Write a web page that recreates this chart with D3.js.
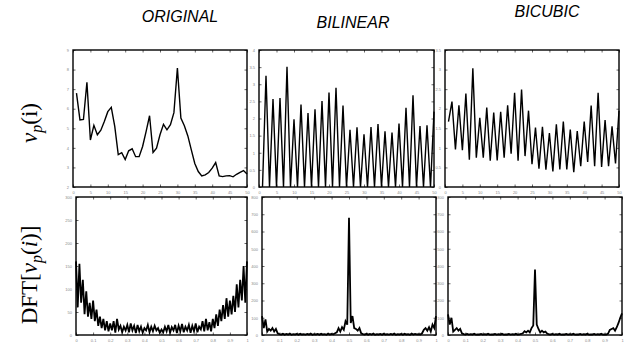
<!DOCTYPE html>
<html lang="en">
<head>
<meta charset="utf-8">
<script src="https://d3js.org/d3.v7.min.js"></script>
<style>
    body { margin: 0; background: #fff; }
    .title { font-family: 'Liberation Sans', Arial, sans-serif; font-style: italic; font-size: 16px; text-anchor: middle; }
    .ylab { font-family: 'Liberation Serif', 'Times New Roman', serif; font-size: 23px; }
    .axis text { font-family: 'Liberation Sans', Arial, sans-serif; font-size: 4px; fill: #888; }
    .axis line { stroke: #000; stroke-width: 0.6px; }
    .frame { fill: none; stroke: #000; stroke-width: 1.4px; }
    .trace { fill: none; stroke: #000; stroke-linejoin: miter; }
</style>
</head>
<body>
<script>
    // column titles
    var titles = ["ORIGINAL", "BILINEAR", "BICUBIC"];

    // top row: pixel values, sample index 1..50
    var original = [6.8, 5.43, 5.45, 7.35, 4.4, 5.15, 4.67, 4.9, 5.35, 5.85,
        6.07, 5.1, 3.65, 3.75, 3.4, 3.85, 3.95, 3.55, 3.55, 4.07,
        4.83, 5.64, 3.76, 3.98, 4.67, 5.2, 4.92, 5.18, 5.8, 8.08,
        5.52, 5.13, 4.61, 3.9, 3.2, 2.79, 2.57, 2.62, 2.74, 2.96,
        3.25, 2.57, 2.53, 2.57, 2.58, 2.52, 2.65, 2.75, 2.84, 2.67];

    var bilinear = [0, 3.25, 0, 2.57, 0, 2.6, 0, 3.51, 0, 1.98,
        0, 2.41, 0, 2.16, 0, 2.27, 0, 2.51, 0, 2.76,
        0, 2.9, 0, 2.38, 0, 1.67, 0, 1.74, 0, 1.54,
        0, 1.75, 0, 1.84, 0, 1.63, 0, 1.59, 0, 1.85,
        0, 2.31, 0, 2.68, 0, 1.78, 0, 1.8, 0, 2.2];

    var bicubic = [1.67, 2.18, 0.96, 2.09, 0.94, 2.39, 0.7, 3.03, 0.75, 1.77,
        0.75, 2.03, 0.67, 1.9, 0.68, 1.92, 0.75, 2.09, 0.85, 2.41,
        0.67, 2.49, 0.79, 1.95, 0.58, 1.52, 0.47, 1.54, 0.44, 1.38,
        0.4, 1.6, 0.45, 1.67, 0.45, 1.47, 0.38, 1.43, 0.53, 1.67,
        0.64, 2.08, 0.53, 2.41, 0.51, 1.71, 0.53, 1.55, 0.6, 1.95];

    // bottom row: DFT magnitude, normalised frequency 0..1 in steps of 0.01
    var dftOriginal = [160, 60, 155, 70, 120, 45, 95, 40, 70, 35,
        75, 30, 55, 20, 40, 15, 35, 10, 30, 8,
        25, 10, 30, 5, 35, 12, 20, 6, 18, 10,
        22, 6, 25, 10, 20, 4, 22, 8, 18, 5,
        15, 10, 22, 6, 18, 8, 20, 10, 15, 5,
        12, 6, 18, 8, 22, 5, 17, 10, 22, 4,
        20, 8, 24, 6, 18, 10, 22, 5, 20, 8,
        25, 6, 18, 12, 30, 8, 35, 10, 28, 8,
        35, 15, 45, 20, 55, 30, 65, 35, 80, 40,
        75, 45, 85, 50, 110, 60, 120, 75, 150, 70, 160];

    var dftBilinear = [110, 40, 90, 20, 35, 25, 40, 20, 35, 10,
        5, 3, 7, 2, 6, 3, 8, 2, 5, 3,
        6, 2, 7, 3, 5, 2, 6, 3, 8, 2,
        5, 3, 6, 2, 7, 3, 5, 2, 8, 3,
        6, 4, 10, 15, 40, 20, 45, 30, 80, 60,
        680, 70, 110, 40, 35, 25, 40, 10, 5, 3,
        7, 2, 6, 3, 8, 2, 5, 3, 6, 2,
        7, 3, 5, 2, 6, 3, 8, 2, 5, 3,
        6, 2, 7, 3, 5, 2, 8, 3, 6, 4,
        5, 3, 10, 30, 40, 25, 45, 20, 60, 40, 110];

    var dftBicubic = [120, 60, 100, 20, 30, 40, 25, 35, 10, 5,
        3, 6, 2, 5, 3, 7, 2, 4, 3, 6,
        2, 5, 3, 7, 2, 4, 3, 6, 2, 5,
        3, 7, 2, 4, 3, 6, 2, 5, 3, 7,
        2, 4, 6, 10, 22, 15, 25, 15, 40, 55,
        380, 60, 35, 15, 25, 15, 20, 8, 4, 3,
        6, 2, 5, 3, 7, 2, 4, 3, 6, 2,
        5, 3, 7, 2, 4, 3, 6, 2, 5, 3,
        7, 2, 4, 3, 6, 2, 5, 3, 7, 2,
        4, 3, 8, 30, 35, 40, 25, 45, 70, 100, 125];

    // y tick values per panel
    var ticksOrig = [2, 3, 4, 5, 6, 7, 8, 9];
    var ticksBil = [0, 0.5, 1, 1.5, 2, 2.5, 3, 3.5, 4];
    var ticksBic = [0, 0.5, 1, 1.5, 2, 2.5, 3, 3.5];
    var ticksDftOrig = [0, 50, 100, 150, 200, 250, 300];
    var ticksDft = [0, 100, 200, 300, 400, 500, 600, 700, 800];
    var ticksIdx = [0, 5, 10, 15, 20, 25, 30, 35, 40, 45, 50];
    var ticksFreq = [0, 0.1, 0.2, 0.3, 0.4, 0.5, 0.6, 0.7, 0.8, 0.9, 1];

    var width = 633, height = 350;

    var svg = d3.select("body").append("svg")
        .attr("width", width)
        .attr("height", height);

    function drawPanel(p) {
        var x = d3.scaleLinear().domain(p.xd).range([p.l, p.r]);
        var y = d3.scaleLinear().domain(p.yd).range([p.b, p.t]);
        var fmt = function(d) { return String(d); };

        // bottom / left with labels, top / right ticks only (inward)
        svg.append("g").attr("class", "axis")
            .attr("transform", "translate(0," + p.b + ")")
            .call(d3.axisBottom(x).tickValues(p.xt).tickSize(-2.5).tickPadding(4.5).tickFormat(fmt))
            .call(g => g.select(".domain").remove());
        svg.append("g").attr("class", "axis")
            .attr("transform", "translate(0," + p.t + ")")
            .call(d3.axisTop(x).tickValues(p.xt).tickSize(-2.5).tickFormat(""))
            .call(g => g.select(".domain").remove());
        svg.append("g").attr("class", "axis")
            .attr("transform", "translate(" + p.l + ",0)")
            .call(d3.axisLeft(y).tickValues(p.yt).tickSize(-2.5).tickPadding(4).tickFormat(fmt))
            .call(g => g.select(".domain").remove());
        svg.append("g").attr("class", "axis")
            .attr("transform", "translate(" + p.r + ",0)")
            .call(d3.axisRight(y).tickValues(p.yt).tickSize(-2.5).tickFormat(""))
            .call(g => g.select(".domain").remove());

        var line = d3.line()
            .x(function(d, i) { return x(p.xOf(i)); })
            .y(function(d) { return y(d); });

        svg.append("path")
            .datum(p.data)
            .attr("class", "trace")
            .attr("stroke-width", p.sw)
            .attr("d", line);

        svg.append("rect")
            .attr("class", "frame")
            .attr("x", p.l).attr("y", p.t)
            .attr("width", p.r - p.l).attr("height", p.b - p.t);
    }

    var idx = function(i) { return i + 1; };
    var freq = function(i) { return i / 100; };

    var panels = [
        {l: 73, r: 247, t: 50, b: 187, xd: [0, 50], yd: [2, 9], xt: ticksIdx, yt: ticksOrig, data: original, xOf: idx, sw: 1.4},
        {l: 259, r: 434, t: 50, b: 187, xd: [0, 50], yd: [0, 4], xt: ticksIdx, yt: ticksBil, data: bilinear, xOf: idx, sw: 1.4},
        {l: 445, r: 619, t: 50, b: 187, xd: [0, 50], yd: [0, 3.5], xt: ticksIdx, yt: ticksBic, data: bicubic, xOf: idx, sw: 1.4},
        {l: 76, r: 247, t: 197, b: 335, xd: [0, 1], yd: [0, 300], xt: ticksFreq, yt: ticksDftOrig, data: dftOriginal, xOf: freq, sw: 1.8},
        {l: 262, r: 436, t: 197, b: 335, xd: [0, 1], yd: [0, 800], xt: ticksFreq, yt: ticksDft, data: dftBilinear, xOf: freq, sw: 1.8},
        {l: 448, r: 622, t: 197, b: 335, xd: [0, 1], yd: [0, 800], xt: ticksFreq, yt: ticksDft, data: dftBicubic, xOf: freq, sw: 1.8}
    ];
    panels.forEach(drawPanel);

    // column titles (staggered as in the figure)
    var titlePos = [[180, 22], [353, 28], [547, 17]];
    titles.forEach(function(t, i) {
        svg.append("text")
            .attr("class", "title")
            .attr("x", titlePos[i][0])
            .attr("y", titlePos[i][1])
            .text(t);
    });

    // row labels, rotated
    var lab1 = svg.append("text").attr("class", "ylab")
        .attr("transform", "translate(37,123) rotate(-90)")
        .attr("text-anchor", "middle");
    lab1.append("tspan").attr("font-style", "italic").text("v");
    lab1.append("tspan").attr("font-style", "italic").attr("font-size", "16px").attr("dy", 5).text("p");
    lab1.append("tspan").attr("dy", -5).text("(i)");

    var lab2 = svg.append("text").attr("class", "ylab")
        .attr("transform", "translate(37,275) rotate(-90)")
        .attr("text-anchor", "middle");
    lab2.append("tspan").text("DFT[");
    lab2.append("tspan").attr("font-style", "italic").text("v");
    lab2.append("tspan").attr("font-style", "italic").attr("font-size", "16px").attr("dy", 5).text("p");
    lab2.append("tspan").attr("dy", -5).text("(");
    lab2.append("tspan").attr("font-style", "italic").text("i");
    lab2.append("tspan").text(")]");
</script>
</body>
</html>
